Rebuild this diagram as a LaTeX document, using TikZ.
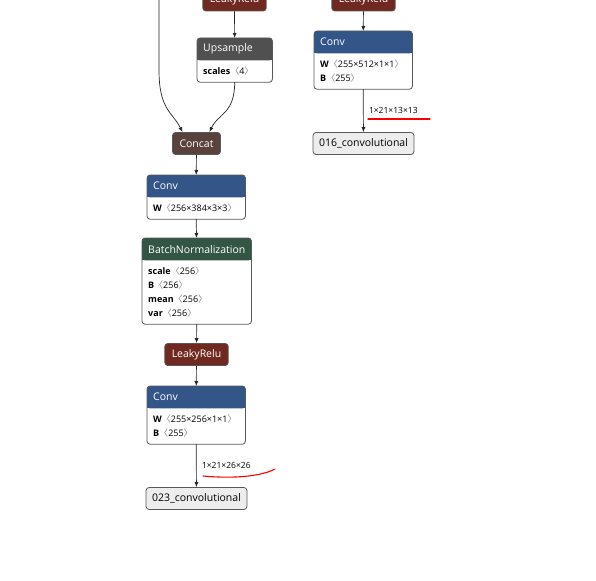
\documentclass[tikz,border=0pt]{standalone}
\usepackage{fontspec}
\setmainfont{Open Sans}
\newfontfamily\cjk{Noto Sans CJK SC}
\usetikzlibrary{arrows.meta, backgrounds, calc}

\definecolor{convcol}{RGB}{51,85,136}
\definecolor{normcol}{RGB}{51,85,68}
\definecolor{actcol}{RGB}{112,41,33}
\definecolor{shapecol}{RGB}{80,80,80}
\definecolor{joincol}{RGB}{89,66,59}

% gray angle brackets around a shape
\newcommand{\dims}[1]{{\color{gray}\cjk 〈}#1{\color{gray}\cjk 〉}}

\tikzset{
  head/.style={anchor=north west, inner xsep=6pt, inner ysep=0pt, minimum height=22pt,
    align=left, text=white, font=\fontsize{10.5}{12}\selectfont},
  body/.style={anchor=north west, inner xsep=6pt, inner ysep=6.5pt, align=left,
    font=\fontsize{9}{14}\selectfont},
  frame/.style={draw=black!65, line width=0.8pt, rounded corners=3pt},
  act/.style={frame, minimum height=22pt, inner xsep=7pt, inner ysep=0pt, text=white,
    font=\fontsize{10.5}{12}\selectfont},
  outbox/.style={frame, fill=black!7, minimum height=22pt, inner xsep=6pt, inner ysep=0pt,
    font=\fontsize{10.5}{12}\selectfont},
  edge/.style={draw=black!85, line width=0.7pt, -{Latex[length=5pt,width=4pt]}},
  dimlabel/.style={right, xshift=2pt, font=\fontsize{8.5}{10}\selectfont},
  mark line/.style={draw=red, line width=1.1pt, line cap=round}
}

% #1 name, #2 top left, #3 text width, #4 colour, #5 title, #6 attributes
\newcommand{\layer}[6]{%
  \node[head, text width=#3pt] (#1) at (#2) {#5};
  \node[body, text width=#3pt] (#1b) at (#1.south west) {#6};
  \begin{scope}[on background layer]
    \fill[white, rounded corners=3pt] (#1.north west) rectangle (#1.east |- #1b.south);
    \fill[#4, rounded corners=3pt] (#1.north west) rectangle (#1.south east);
    \fill[#4] (#1.west) rectangle (#1.south east);
  \end{scope}
  \draw[frame] (#1.north west) rectangle (#1.east |- #1b.south);
}

\begin{document}
\begin{tikzpicture}[x=1pt, y=-1pt]
  \useasboundingbox (0,0) rectangle (596,580);

  % left branch
  \node[act, fill=actcol] (lr1) at (234.5,0) {LeakyRelu};
  \layer{up}{197,38}{63}{shapecol}{Upsample}{\textbf{scales}\dims{4}}
  \node[act, fill=joincol] (cc) at (196.5,143.5) {Concat};
  \layer{cv1}{147,175}{86}{convcol}{Conv}{\textbf{W}\dims{256×384×3×3}}
  \layer{bn}{142,238}{97}{normcol}{BatchNormalization}{\textbf{scale}\dims{256}\\
    \textbf{B}\dims{256}\\ \textbf{mean}\dims{256}\\ \textbf{var}\dims{256}}
  \node[act, fill=actcol] (lr2) at (196.5,354.5) {LeakyRelu};
  \layer{cv2}{147,386}{86}{convcol}{Conv}{\textbf{W}\dims{255×256×1×1}\\ \textbf{B}\dims{255}}
  \node[outbox] (o23) at (196.5,498.5) {023\_convolutional};

  % right branch
  \node[act, fill=actcol] (lr3) at (363.5,0) {LeakyRelu};
  \layer{cv3}{314,31}{86}{convcol}{Conv}{\textbf{W}\dims{255×512×1×1}\\ \textbf{B}\dims{255}}
  \node[outbox] (o16) at (363.5,143.5) {016\_convolutional};

  \coordinate (skip) at (159,-10);

  \draw[edge] (lr1) -- (up);
  \draw[edge] (upb.south) .. controls +(0,32) and +(8,-18) .. ([xshift=13pt]cc.north);
  \draw[edge] (skip) -- (159,70) .. controls +(0,40) and +(-10,-20) .. ([xshift=-14pt]cc.north);
  \draw[edge] (cc) -- (cv1);
  \draw[edge] (cv1b.south) -- (bn);
  \draw[edge] (bnb.south) -- (lr2);
  \draw[edge] (lr2) -- (cv2);
  \draw[edge] (cv2b.south) -- node[dimlabel] {1×21×26×26} (o23);
  \draw[edge] (lr3) -- (cv3);
  \draw[edge] (cv3b.south) -- node[dimlabel] {1×21×13×13} (o16);

  % red underlines
  \draw[mark line] (203,476) .. controls (235,479) and (262,476) .. (275,469);
  \draw[mark line] (368,119) -- (430,119);
\end{tikzpicture}
\end{document}
